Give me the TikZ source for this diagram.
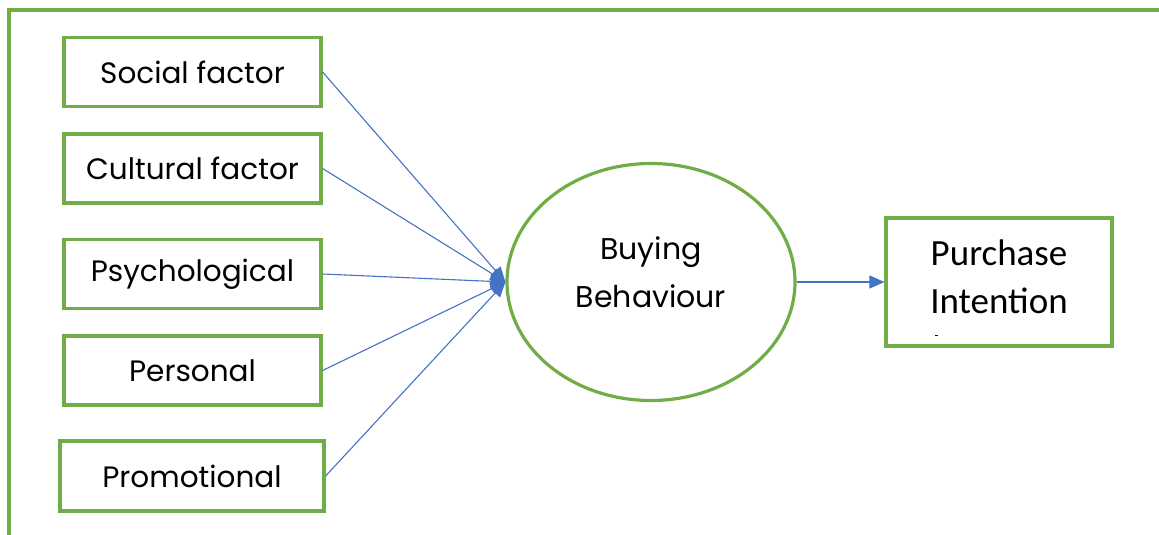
\documentclass[tikz,border=0pt]{standalone}
\usepackage{fontspec}
\setmainfont{Poppins}
\newfontfamily\calib{Carlito}
\usetikzlibrary{arrows.meta,shapes.geometric}
\definecolor{framegreen}{HTML}{70AD47}
\definecolor{linkblue}{HTML}{4472C4}
\tikzset{
  greenline/.style={draw=framegreen, line width=3.2pt},
  factor/.style={greenline, minimum width=257pt, minimum height=69pt, inner sep=0pt, font=\fontsize{29.5}{32}\selectfont},
  link/.style={draw=linkblue, line width=1.1pt, -{Triangle[length=15pt,width=13pt]}},
}
\begin{document}
\begin{tikzpicture}[x=1pt,y=-1pt]
\useasboundingbox (0,0) rectangle (1159,535);
% open frame: top and left edges
\coordinate (fl) at (9,535);
\coordinate (ft) at (9,10);
\coordinate (fr) at (1159,10);
\draw[greenline] (fl) -- (ft) -- (fr);
% factor boxes
\node[factor] (soc) at (192.5,72) {Social factor};
\node[factor] (cul) at (192.5,168.5) {Cultural factor};
\node[factor] (psy) at (192.5,274) {Psychological};
\node[factor] (per) at (192.5,370.5) {Personal};
\node[factor, minimum width=264pt, minimum height=70pt] (pro) at (192,476) {Promotional};
% central construct
\node[greenline, ellipse, minimum width=288pt, minimum height=237pt, inner sep=0pt] (bb) at (651,282) {};
\node[align=center, font=\fontsize{30}{48}\selectfont] (bbt) at (651,272) {Buying\\Behaviour};
% outcome
\node[greenline, minimum width=226pt, minimum height=128pt, inner sep=0pt] (pi) at (999,282) {};
\node[align=center, font=\calib\fontsize{37}{48}\selectfont] (pit) at (999,277) {Purchase\\Intention};
\draw (935,335.5) -- (938,335.5);
% connectors
\foreach \n in {soc,cul,psy,per,pro}
  \draw[link] (\n.east) -- (bb.west);
\draw[link] (bb.east) -- (pi.west);
\end{tikzpicture}
\end{document}
